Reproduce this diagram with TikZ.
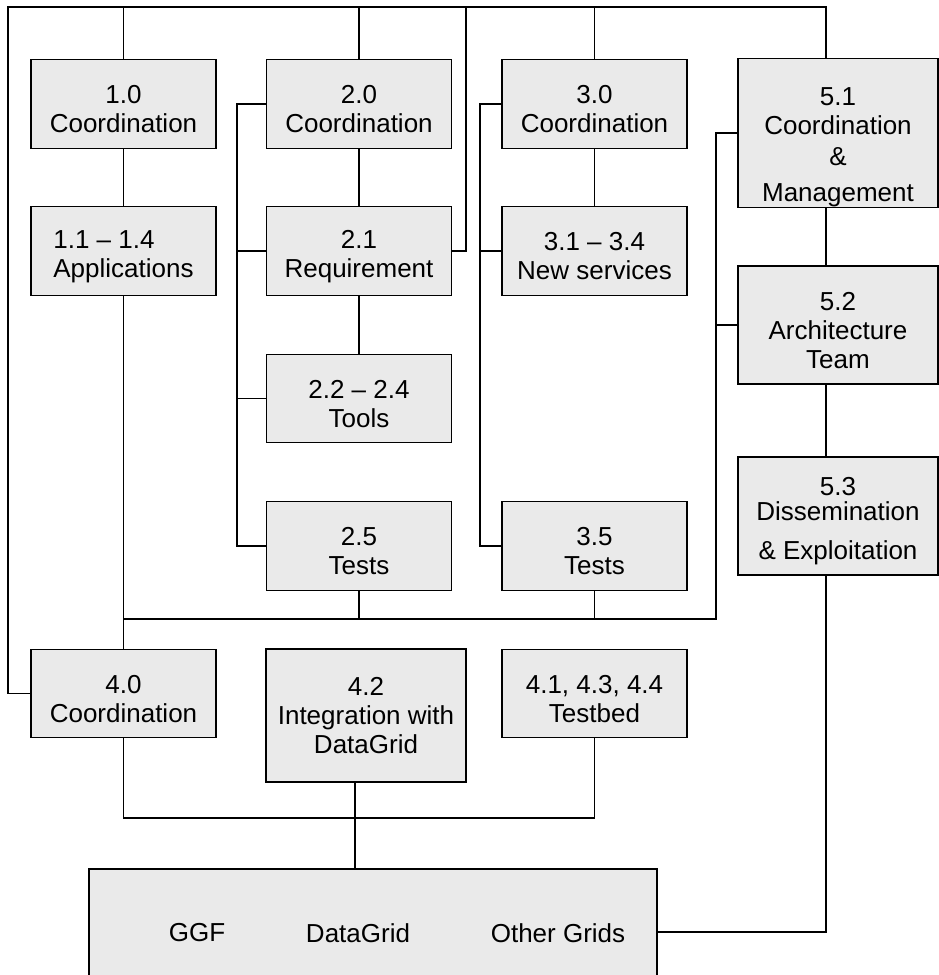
\documentclass[tikz,border=0pt]{standalone}
\usepackage{fontspec}
\setmainfont{Liberation Sans}
\usepackage{xcolor}
\usepackage{tikz}
\usetikzlibrary{calc}
\definecolor{ink}{HTML}{000000}
\definecolor{boxfill}{HTML}{EAEAEA}
\newcommand{\wpstrut}{\rule{0pt}{16.3pt}}
\tikzset{
  wp/.style={draw=ink, fill=boxfill, line width=0.75pt, align=center, inner sep=0pt,
    minimum width=3.7cm, minimum height=1.77cm, font=\fontsize{14.8}{16.5}\selectfont},
  widewp/.style={wp, minimum width=4cm},
  link/.style={draw=ink, line width=0.75pt},
  lab/.style={text=ink, font=\fontsize{14.8}{16.5}\selectfont},
}

\begin{document}
\begin{tikzpicture}[x=0.02cm, y=-0.02cm]
\useasboundingbox (0,0) rectangle (939,975);
% corners of the buses
\coordinate (topL) at (8,7);
\coordinate (up21) at (466,7);
\coordinate (b2) at (237,0);
\coordinate (b3) at (480,0);
\coordinate (mid) at (716,619);
\coordinate (c5) at (826,0);
\coordinate (low) at (355,818);

% work packages
\node[wp] (n10) at (123.5,104) {\wpstrut 1.0\\Coordination};
\node[wp, align=left] (n11) at (123.5,251) {\wpstrut 1.1 – 1.4\\Applications};
\node[wp] (n20) at (359,104) {\wpstrut 2.0\\Coordination};
\node[wp] (n21) at (359,251) {\wpstrut 2.1\\Requirement};
\node[wp] (n22) at (359,398.5) {\wpstrut 2.2 – 2.4\\Tools};
\node[wp] (n25) at (359,546) {\wpstrut 2.5\\Tests};
\node[wp] (n30) at (594.5,104) {\wpstrut 3.0\\Coordination};
\node[wp] (n31) at (594.5,251) {\wpstrut 3.1 – 3.4\\New services};
\node[wp] (n35) at (594.5,546) {\wpstrut 3.5\\Tests};
\node[widewp, minimum height=2.96cm] (n51) at (838,133) {\rule{0pt}{26.5pt}5.1\\Coordination\\[1pt]\&\\[4.5pt]Management};
\node[widewp, minimum height=2.36cm] (n52) at (838,325) {\wpstrut 5.2\\Architecture\\Team};
\node[widewp, minimum height=2.36cm] (n53) at (838,516) {\wpstrut 5.3\\[-2.3pt]Dissemination\\[5.7pt]\& Exploitation};
\node[wp] (n40) at (123.5,693.5) {\wpstrut 4.0\\Coordination};
\node[widewp, minimum height=2.66cm] (n42) at (366,715.5) {4.2\\Integration with\\DataGrid};
\node[wp] (n41) at (594.5,693.5) {\wpstrut 4.1, 4.3, 4.4\\Testbed};
\node[wp, minimum width=11.36cm, minimum height=2.52cm] (grids) at (373,932) {};
\node[lab] (ggf) at (197,933) {GGF};
\node[lab] (dg) at (358,933) {DataGrid};
\node[lab] (other) at (558,933) {Other Grids};

% top bus
\draw[link] (n51.north -| c5) |- (topL) |- (n40.west);
\foreach \n in {n10,n20,n30}
  \draw[link] (\n.north) -- (\n.north |- topL);
\draw[link] (n21.east) -| (up21);

% columns
\draw[link] (n10.south) -- (n11.north);
\draw[link] (n11.south) -- (n40.north);
\draw[link] (n20.south) -- (n21.north);
\draw[link] (n21.south) -- (n22.north);
\draw[link] (n30.south) -- (n31.north);
\draw[link] (n20.west) -- (n20.west -| b2) -- (n25.west -| b2) -- (n25.west);
\foreach \n in {n21,n22}
  \draw[link] (\n.west) -- (\n.west -| b2);
\draw[link] (n30.west) -- (n30.west -| b3) -- (n35.west -| b3) -- (n35.west);
\draw[link] (n31.west) -- (n31.west -| b3);

% middle bus
\draw[link] (n51.west) -| (mid) -- (mid -| n40.north);
\draw[link] (n52.west) -- (n52.west -| mid);
\draw[link] (n25.south) -- (n25.south |- mid);
\draw[link] (n35.south) -- (n35.south |- mid);

% management column
\draw[link] (n51.south -| c5) -- (n52.north -| c5);
\draw[link] (n52.south -| c5) -- (n53.north -| c5);
\draw[link] (n53.south -| c5) |- (grids.east);

% testbed to grids
\draw[link] (n40.south) |- (low) -| (n41.south);
\draw[link] (n42.south -| low) -- (grids.north -| low);
\end{tikzpicture}
\end{document}
